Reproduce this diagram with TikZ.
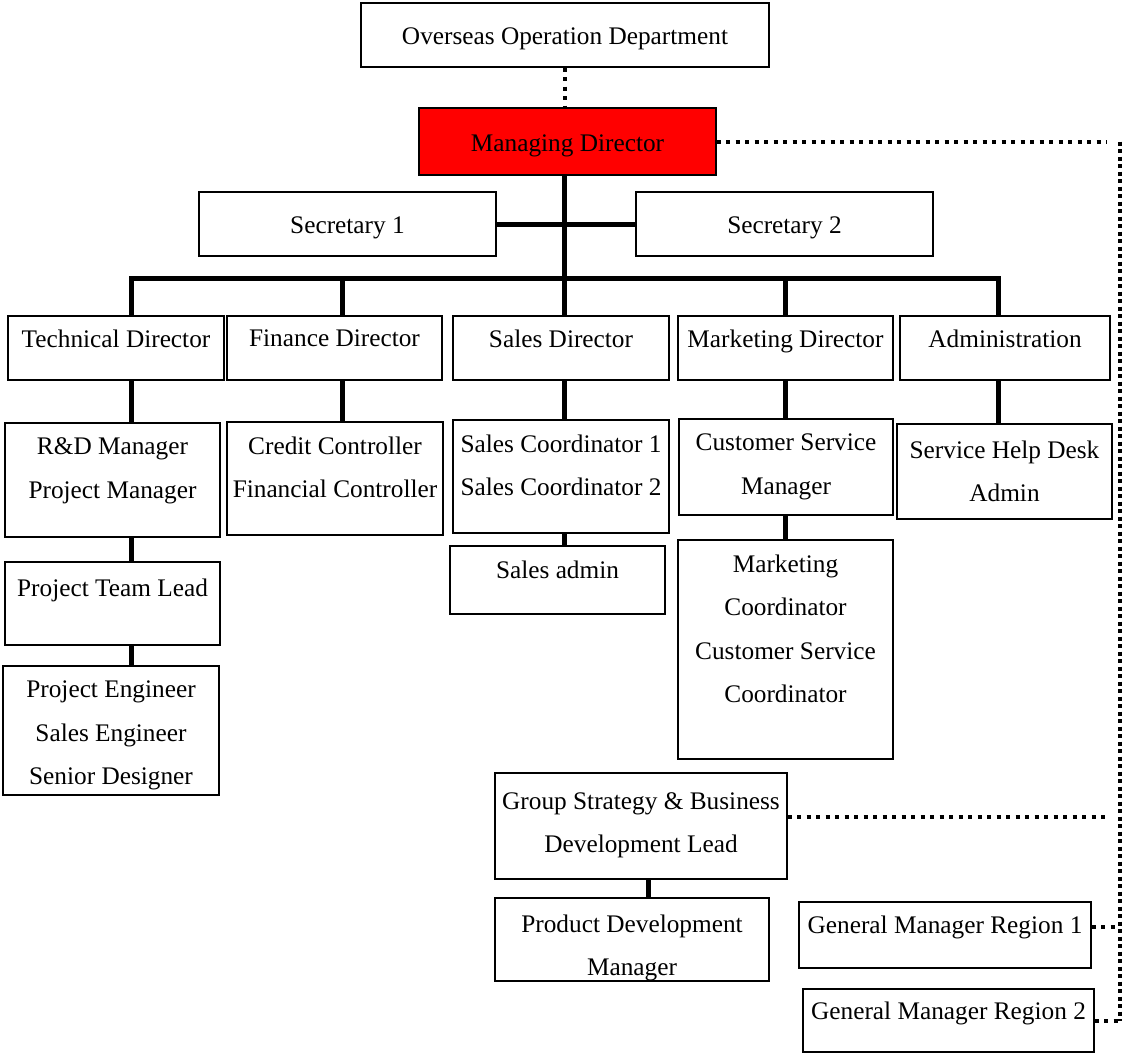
\documentclass[tikz,border=0pt]{standalone}
\usepackage{fontspec}
\setmainfont{Liberation Serif}

\begin{document}
\begin{tikzpicture}
            [post/.style={draw=black, line width=0.8pt, fill=white, inner sep=0pt},
             mid/.style={text height=0.42cm, text depth=0.04cm},
             txt/.style={anchor=north, align=center, inner sep=0pt, yshift=-0.31cm},
             link/.style={line width=0.1cm},
             dotline/.style={line width=0.08cm, dash pattern=on 0.08cm off 0.11cm},
             railline/.style={line width=0.08cm, dash pattern=on 0.08cm off 0.07cm},
             font=\fontsize{14.4}{24.6}\selectfont]
            \useasboundingbox (0, 0) rectangle (22.5, -21.06);

            \node[post, mid, minimum width=8.16cm, minimum height=1.28cm] (ood) at (11.3, -0.7) {Overseas Operation Department};
            \node[post, mid, fill=red, minimum width=5.94cm, minimum height=1.34cm] (md) at (11.35, -2.83) {Managing Director};
            \node[post, mid, minimum width=5.94cm, minimum height=1.28cm] (sec1) at (6.95, -4.48) {Secretary 1};
            \node[post, mid, minimum width=5.94cm, minimum height=1.28cm] (sec2) at (15.69, -4.48) {Secretary 2};

            \node[post, minimum width=4.32cm, minimum height=1.28cm, label={[txt, yshift=0.03cm]north:Technical Director}] (tech) at (2.32, -6.96) {};
            \node[post, minimum width=4.30cm, minimum height=1.28cm, label={[txt, yshift=0.03cm]north:Finance Director}] (fin) at (6.69, -6.96) {};
            \node[post, minimum width=4.32cm, minimum height=1.28cm, label={[txt, yshift=0.03cm]north:Sales Director}] (sales) at (11.22, -6.96) {};
            \node[post, minimum width=4.30cm, minimum height=1.28cm, label={[txt, yshift=0.03cm]north:Marketing Director}] (mkt) at (15.71, -6.96) {};
            \node[post, minimum width=4.20cm, minimum height=1.28cm, label={[txt, yshift=0.03cm]north:Administration}] (adm) at (20.1, -6.96) {};

            \node[post, minimum width=4.30cm, minimum height=2.28cm, label={[txt]north:{R\&D Manager\\Project Manager}}] (rnd) at (2.25, -9.6) {};
            \node[post, minimum width=4.32cm, minimum height=2.26cm, label={[txt]north:{Credit Controller\\Financial Controller}}] (cred) at (6.7, -9.57) {};
            \node[post, minimum width=4.32cm, minimum height=2.26cm, label={[txt]north:{Sales Coordinator 1\\Sales Coordinator 2}}] (scoord) at (11.22, -9.53) {};
            \node[post, minimum width=4.28cm, minimum height=1.92cm, label={[txt]north:{Customer Service\\Manager}}] (csm) at (15.72, -9.34) {};
            \node[post, minimum width=4.30cm, minimum height=1.90cm, label={[txt, yshift=-0.04cm]north:{Service Help Desk\\Admin}}] (help) at (20.09, -9.43) {};

            \node[post, minimum width=4.30cm, minimum height=1.66cm, label={[txt, yshift=-0.04cm]north:Project Team Lead}] (ptl) at (2.25, -12.07) {};
            \node[post, minimum width=4.30cm, minimum height=1.36cm, label={[txt]north:Sales admin}] (sadm) at (11.15, -11.6) {};
            \node[post, minimum width=4.30cm, minimum height=4.38cm, label={[txt]north:{Marketing\\Coordinator\\Customer Service\\Coordinator}}] (mcoord) at (15.71, -12.99) {};
            \node[post, minimum width=4.32cm, minimum height=2.58cm, label={[txt]north:{Project Engineer\\Sales Engineer\\Senior Designer}}] (peng) at (2.22, -14.61) {};

            \node[post, minimum width=5.84cm, minimum height=2.12cm, label={[txt, yshift=-0.08cm]north:{Group Strategy \& Business\\Development Lead}}] (gs) at (12.82, -16.52) {};
            \node[post, minimum width=5.48cm, minimum height=1.66cm, label={[txt, yshift=-0.03cm]north:{Product Development\\Manager}}] (pd) at (12.64, -18.79) {};
            \node[post, minimum width=5.84cm, minimum height=1.32cm, label={[txt, yshift=0.02cm]north:General Manager Region 1}] (gm1) at (18.9, -18.7) {};
            \node[post, minimum width=5.82cm, minimum height=1.26cm, label={[txt, yshift=0.04cm]north:General Manager Region 2}] (gm2) at (18.97, -20.41) {};

            % connector columns
            \coordinate (bus) at (0, -5.56);
            \coordinate (colA) at (2.62, 0);
            \coordinate (colB) at (6.84, 0);
            \coordinate (colC) at (11.28, 0);
            \coordinate (colD) at (15.7, 0);
            \coordinate (colE) at (19.96, 0);
            \coordinate (colF) at (12.96, 0);
            \coordinate (railtop) at (22.4, -2.83);
            \coordinate (railbot) at (22.4, -20.41);
            \coordinate (gsout) at ([yshift=0.18cm]gs.east);
            \coordinate (gm1out) at ([yshift=0.16cm]gm1.east);

            \draw[link] (md.south -| colC) -- (colC |- bus);
            \draw[link] (sec1.east) -- (sec1.east -| colC);
            \draw[link] (sec2.west) -- (sec2.west -| colC);
            \draw[link] (colA |- tech.north) -- (colA |- bus) -- (colE |- bus) -- (colE |- adm.north);
            \draw[link] (colB |- bus) -- (colB |- fin.north);
            \draw[link] (colC |- bus) -- (colC |- sales.north);
            \draw[link] (colD |- bus) -- (colD |- mkt.north);

            \draw[link] (colA |- tech.south) -- (colA |- rnd.north);
            \draw[link] (colA |- rnd.south) -- (colA |- ptl.north);
            \draw[link] (colA |- ptl.south) -- (colA |- peng.north);
            \draw[link] (colB |- fin.south) -- (colB |- cred.north);
            \draw[link] (colC |- sales.south) -- (colC |- scoord.north);
            \draw[link] (colC |- scoord.south) -- (colC |- sadm.north);
            \draw[link] (colD |- mkt.south) -- (colD |- csm.north);
            \draw[link] (colD |- csm.south) -- (colD |- mcoord.north);
            \draw[link] (colE |- adm.south) -- (colE |- help.north);
            \draw[link] (colF |- gs.south) -- (colF |- pd.north);

            % dotted reporting lines
            \draw[dotline] (ood.south) -- (ood.south |- md.north);
            \draw[dotline, shorten >=0.26cm] (md.east) -- (railtop);
            \draw[railline] (railtop) -- (railbot);
            \draw[dotline, shorten >=0.26cm] (gsout) -- (gsout -| railtop);
            \draw[dotline] (gm1out) -- (gm1out -| railtop);
            \draw[dotline] (gm2.east) -- (railbot);
\end{tikzpicture}
\end{document}
